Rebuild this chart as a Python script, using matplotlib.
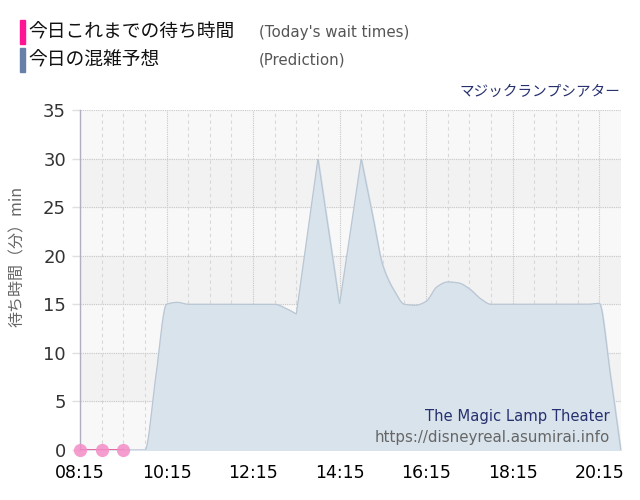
import numpy as np
import matplotlib.pyplot as plt
from matplotlib.ticker import FixedLocator, FuncFormatter

plt.rcParams['font.family'] = ['DejaVu Sans', 'Noto Sans CJK JP']

# prediction every 15 minutes, 08:15 .. 20:45 (minutes since midnight)
pred_times = np.arange(8 * 60 + 15, 20 * 60 + 46, 15)
pred_values = [0, 0, 0, 0, 0, 0, 0, 7.5, 15, 15.2,
               15, 15, 15, 15, 15, 15, 15, 15,
               15, 14.6, 14, 22, 30, 22.5, 15, 22.5, 30, 24.5, 19, 16.5,
               15, 14.9, 15.3, 16.8, 17.3, 17.2, 16.6, 15.6, 15.0,
               15, 15, 15, 15, 15, 15, 15, 15, 15,
               15.1, 8, 0]
# points where the curve has a corner instead of a smooth turn
sharp_times = [13 * 60 + 15, 13 * 60 + 45, 14 * 60 + 15, 14 * 60 + 45]

# today's actual wait times
actual_times = [8 * 60 + 15, 8 * 60 + 45, 9 * 60 + 15]
actual_values = [0, 0, 0]

title = 'マジックランプシアター'
name_en = 'The Magic Lamp Theater'
site = 'https://disneyreal.asumirai.info'


def smooth(x, y, xn, sharp=()):
    # monotone cubic (pchip-like), with optional corners
    x = np.asarray(x, float)
    y = np.asarray(y, float)
    h = np.diff(x)
    d = np.diff(y) / h
    mL = np.zeros_like(y)
    mR = np.zeros_like(y)
    mL[0] = mR[0] = d[0]
    mL[-1] = mR[-1] = d[-1]
    for k in range(1, len(x) - 1):
        if x[k] in sharp:
            mL[k], mR[k] = d[k - 1], d[k]
        elif d[k - 1] * d[k] > 0:
            w1 = 2 * h[k] + h[k - 1]
            w2 = h[k] + 2 * h[k - 1]
            mL[k] = mR[k] = (w1 + w2) / (w1 / d[k - 1] + w2 / d[k])
    i = np.clip(np.searchsorted(x, xn) - 1, 0, len(x) - 2)
    t = (xn - x[i]) / h[i]
    h00 = 2 * t**3 - 3 * t**2 + 1
    h10 = t**3 - 2 * t**2 + t
    h01 = -2 * t**3 + 3 * t**2
    h11 = t**3 - t**2
    return h00 * y[i] + h10 * h[i] * mR[i] + h01 * y[i + 1] + h11 * h[i] * mL[i + 1]


fig = plt.figure(figsize=(6.4, 5.0), dpi=100)
ax = fig.add_axes([0.125, 0.1, 0.845, 0.68])

x0, x1 = pred_times[0], pred_times[-1]
ax.set_xlim(x0, x1)
ax.set_ylim(0, 35)
ax.set_facecolor('#f8f8f8')
for lo in (5, 15, 25):
    ax.axhspan(lo, lo + 5, color='#f2f2f2', zorder=0)

# vertical grid
for t in np.arange(x0, x1 + 1, 30):
    if (t - x0) % 120 == 0:
        ax.axvline(t, color='#c8c8c8', lw=0.8, ls=(0, (1, 1)), zorder=1)
    else:
        ax.axvline(t, color='#d8d8d8', lw=0.8, ls=(0, (3, 3)), zorder=1)
for v in range(0, 36, 5):
    ax.axhline(v, color='#c8c8c8', lw=0.8, ls=(0, (1, 1)), zorder=1)

xs = np.linspace(x0, x1, 2000)
ys = smooth(pred_times, pred_values, xs, sharp_times)
ax.fill_between(xs, 0, ys, color='#d9e3ec', zorder=2)
ax.plot(xs, ys, color='#b9c6d3', lw=0.9, zorder=3)

ax.plot(actual_times, actual_values, color='#e8559e', lw=1.2, zorder=4)
ax.plot(actual_times, actual_values, 'o', ms=9.5, color='#f48cc6', alpha=0.85,
        mec='none', zorder=5, clip_on=False)

ax.xaxis.set_major_locator(FixedLocator(np.arange(x0, x1 + 1, 120)))
ax.xaxis.set_major_formatter(FuncFormatter(lambda v, p: '%02d:%02d' % (v // 60, v % 60)))
ax.set_yticks(range(0, 36, 5))
ax.tick_params(axis='x', length=0, pad=10, labelsize=12.5, labelcolor='#000000')
ax.tick_params(axis='y', length=6, color='#e0e0e0', width=1, pad=4, labelsize=13, labelcolor='#333333')

for s in ('top', 'right', 'bottom'):
    ax.spines[s].set_visible(False)
ax.spines['left'].set_color('#b0b0c0')
ax.spines['left'].set_linewidth(1)

ax.set_ylabel('待ち時間（分）min', color='#666666', fontsize=11.5,
              family=['Noto Sans CJK JP', 'DejaVu Sans'])
ax.yaxis.set_label_coords(-0.1, 0.57)

ax.text(0.98, 0.1, name_en, transform=ax.transAxes, ha='right', va='center',
        fontsize=10.6, color='#26306e', zorder=6)
ax.text(0.98, 0.037, site, transform=ax.transAxes, ha='right', va='center',
        fontsize=10.8, color='#666666', zorder=6)

fig.text(620 / 640, 1 - 92 / 500, title, ha='right', va='center', fontsize=10.5,
         color='#26306e', family=['Noto Sans CJK JP', 'DejaVu Sans'])

# legend at top
legend_rows = [('今日これまでの待ち時間', "(Today's wait times)", '#ff1493', 32),
               ('今日の混雑予想', '(Prediction)', '#6680a8', 60)]
for jp, en, col, yy in legend_rows:
    fig.patches.append(plt.Rectangle((20 / 640, 1 - (yy + 12) / 500), 5 / 640, 24 / 500,
                                     transform=fig.transFigure, color=col))
    fig.text(28 / 640, 1 - yy / 500, jp, ha='left', va='center', fontsize=13.5,
             color='#111111', family=['Noto Sans CJK JP', 'DejaVu Sans'])
    fig.text(259 / 640, 1 - yy / 500, en, ha='left', va='center', fontsize=10.8,
             color='#555555')

fig.savefig('out.png', dpi=100)
